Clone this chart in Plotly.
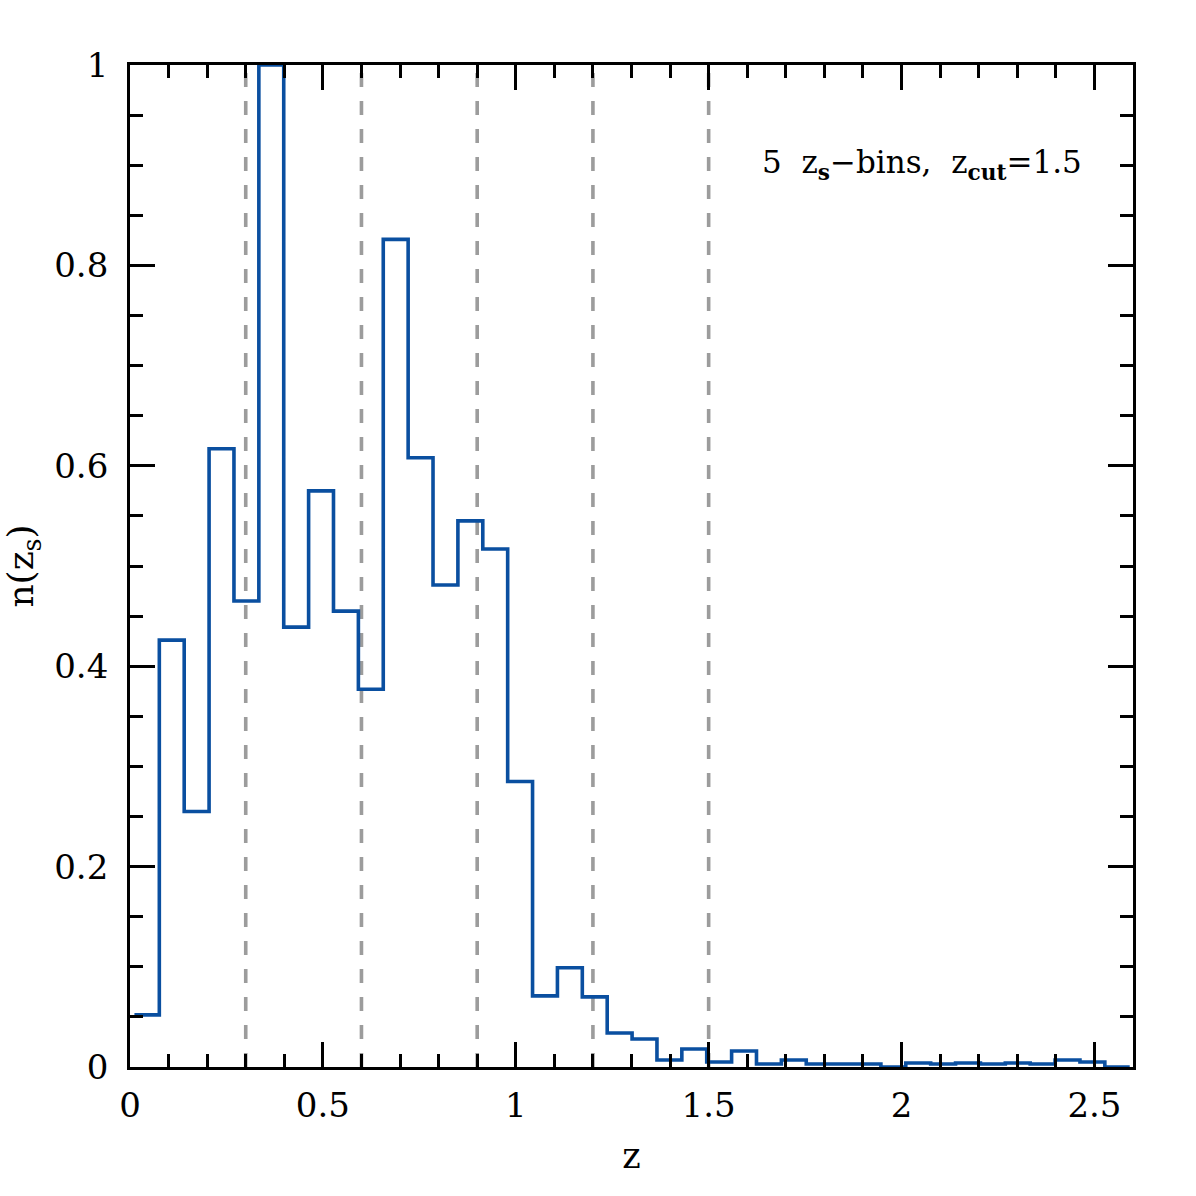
import numpy as np
import plotly.graph_objects as go

# histogram definition
bin_start = 0.0115
bin_width = 0.0645
n_values = [0.052, 0.426, 0.255, 0.617, 0.465, 1.0, 0.439, 0.575, 0.455, 0.377,
            0.826, 0.608, 0.481, 0.545, 0.517, 0.285, 0.071, 0.099, 0.070, 0.034,
            0.028, 0.007, 0.018, 0.005, 0.016, 0.003, 0.007, 0.003, 0.003, 0.003,
            0.000, 0.004, 0.003, 0.004, 0.003, 0.004, 0.003, 0.007, 0.005, 0.000]
bin_edges = [bin_start + i * bin_width for i in range(len(n_values) + 1)]
zs_bin_edges = [0.3, 0.6, 0.9, 1.2, 1.5]

x_ticks = [0, 0.5, 1, 1.5, 2, 2.5]
x_ticklabels = ["0", "0.5", "1", "1.5", "2", "2.5"]
y_ticks = [0, 0.2, 0.4, 0.6, 0.8, 1]
y_ticklabels = ["0", "0.2", "0.4", "0.6", "0.8", "1"]

FONT = "DejaVu Serif"
fig = go.Figure()

for xv in zs_bin_edges:
    fig.add_trace(go.Scatter(x=[xv, xv], y=[0, 1], mode="lines",
                             line=dict(color="#9c9c9c", width=3.6, dash="14px,14px"),
                             showlegend=False, hoverinfo="skip"))

fig.add_trace(go.Scatter(x=bin_edges, y=n_values + [n_values[-1]], mode="lines",
                         line=dict(color="#0a4fa0", width=3.6, shape="hv"),
                         showlegend=False))

axis_common = dict(showgrid=False, zeroline=False, showline=True, linecolor="black",
                   linewidth=2.8, mirror="allticks", ticks="inside", tickcolor="black",
                   tickwidth=2.5, ticklen=25,
                   tickfont=dict(family=FONT, size=34, color="black"))

fig.update_xaxes(range=[0, 2.6], tickvals=x_ticks, ticktext=x_ticklabels,
                 ticklabelstandoff=6,
                 minor=dict(ticks="inside", dtick=0.1, tick0=0, ticklen=13, tickwidth=2.5,
                            tickcolor="black"),
                 title=dict(text="z", font=dict(family=FONT, size=35, color="black"), standoff=20),
                 **axis_common)
fig.update_yaxes(range=[0, 1], tickvals=y_ticks, ticktext=y_ticklabels,
                 ticklabelstandoff=12,
                 minor=dict(ticks="inside", dtick=0.05, tick0=0, ticklen=13, tickwidth=2.5,
                            tickcolor="black"),
                 title=dict(text="n(z<sub>s</sub>)", font=dict(family=FONT, size=36, color="black"),
                            standoff=10),
                 **axis_common)

fig.add_annotation(x=1084, y=165, xref="paper", yref="paper", xanchor="right", yanchor="middle",
                   text="5\u00a0\u00a0z<sub><b>s</b></sub>\u2212bins,\u00a0\u00a0z<sub><b>cut</b></sub>=1.5",
                   showarrow=False,
                   font=dict(family=FONT, size=31, color="black"))

fig.update_layout(width=1196, height=1196, plot_bgcolor="white", paper_bgcolor="white",
                  margin=dict(l=130, r=63, t=65, b=129))

# convert annotation pixel position to paper coords
pw = 1196 - 130 - 63
ph = 1196 - 65 - 129
ann = fig.layout.annotations[0]
ann.x = (1084 - 130) / pw
ann.y = (1067 - 165) / ph

fig.write_html("out.html")
